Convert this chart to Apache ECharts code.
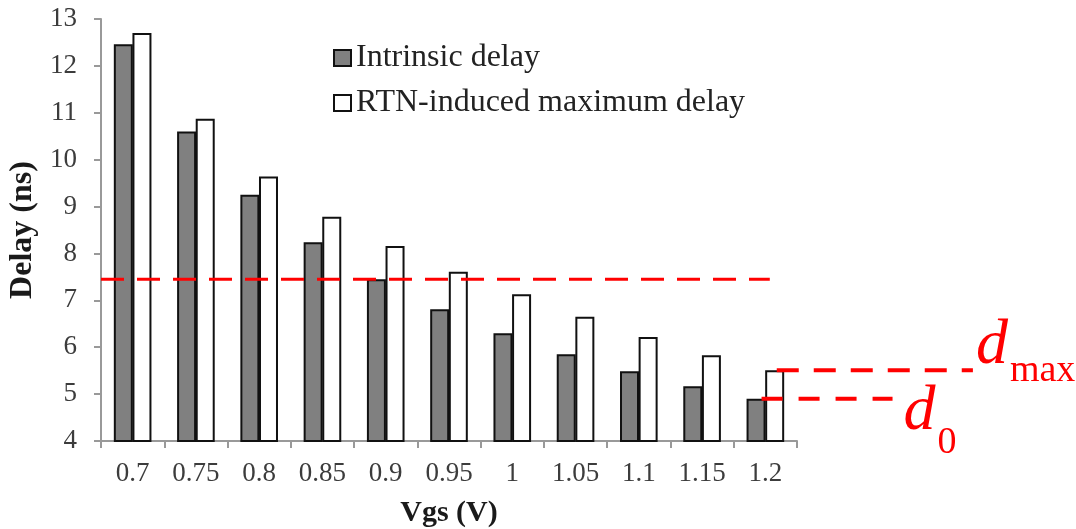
<!DOCTYPE html>
<html>
<head>
<meta charset="utf-8">
<style>
  html, body { margin: 0; padding: 0; background: #ffffff; }
  #chart { width: 1076px; height: 529px; }
</style>
<script src="https://cdn.jsdelivr.net/npm/echarts@6/dist/echarts.min.js"></script>
</head>
<body>
<div id="chart"></div>
<script>
// Gate delay versus supply voltage
const categories = ['0.7', '0.75', '0.8', '0.85', '0.9', '0.95', '1', '1.05', '1.1', '1.15', '1.2'];
const intrinsicDelay = [12.46, 10.60, 9.25, 8.24, 7.45, 6.81, 6.30, 5.85, 5.49, 5.17, 4.90];
const maxDelay = [12.70, 10.87, 9.64, 8.78, 8.16, 7.61, 7.13, 6.65, 6.22, 5.83, 5.51];
const yTicks = { min: 4, max: 13, step: 1 };

// Reference levels, x in category-band units (0 = left edge of first band)
const thresholdLine = [[0, 7.45], [10.57, 7.45]];
const dMaxLine = [[10.68, 5.51], [13.78, 5.51]];
const d0Line = [[10.44, 4.90], [12.51, 4.90]];

const serif = 'Liberation Serif';
const red = '#ff0000';

const W = 1076;
const plot = { left: 101, right: 279, top: 19, bottom: 88 };
// overlay grid shares the bar grid's scale but runs to the right edge,
// so the annotation lines can extend past the last category
const band = (W - plot.left - plot.right) / categories.length;
const overlayMax = (W - plot.left) / band;

const chart = echarts.init(document.getElementById('chart'));

function dashedLine(name, data, width, dash, label) {
  const s = {
    name: name,
    type: 'line',
    xAxisIndex: 1,
    yAxisIndex: 1,
    data: data,
    symbol: 'none',
    silent: true,
    z: 5,
    lineStyle: { color: red, width: width, type: dash, cap: 'butt' }
  };
  if (label) {
    s.endLabel = {
      show: true,
      distance: 3,
      offset: label.offset,
      formatter: '{d|' + label.main + '}{s|' + label.sub + '}',
      rich: {
        d: { fontFamily: serif, fontStyle: 'italic', fontSize: 64, color: red, verticalAlign: 'bottom', lineHeight: 64 },
        s: { fontFamily: serif, fontSize: 38, color: red, verticalAlign: 'bottom', lineHeight: 38, padding: [0, 0, label.drop, 2] }
      }
    };
  }
  return s;
}

chart.setOption({
  backgroundColor: '#ffffff',
  animation: false,
  grid: [
    { left: plot.left, right: plot.right, top: plot.top, bottom: plot.bottom, containLabel: false, outerBoundsMode: 'none' },
    { left: plot.left, right: 0, top: plot.top, bottom: plot.bottom, containLabel: false, outerBoundsMode: 'none', show: false }
  ],
  legend: {
    orient: 'vertical',
    left: 333,
    top: 42,
    padding: 0,
    itemGap: 13,
    itemWidth: 17,
    itemHeight: 16,
    icon: 'rect',
    data: ['Intrinsic delay', 'RTN-induced maximum delay'],
    textStyle: { fontFamily: serif, fontSize: 32, color: '#222222' }
  },
  xAxis: [
    {
      type: 'category',
      gridIndex: 0,
      data: categories,
      name: 'Vgs (V)',
      nameLocation: 'middle',
      nameGap: 57,
      nameTextStyle: { fontFamily: serif, fontSize: 30, fontWeight: 'bold', color: '#1a1a1a' },
      axisLine: { show: true, lineStyle: { color: '#999999', width: 2 } },
      axisTick: { show: true, length: 7, alignWithLabel: false, lineStyle: { color: '#999999', width: 2 } },
      axisLabel: { fontFamily: serif, fontSize: 27, color: '#3c3c3c', margin: 19 },
      splitLine: { show: false }
    },
    {
      type: 'value',
      gridIndex: 1,
      min: 0,
      max: overlayMax,
      show: false
    }
  ],
  yAxis: [
    {
      type: 'value',
      gridIndex: 0,
      min: yTicks.min,
      max: yTicks.max,
      interval: yTicks.step,
      name: 'Delay (ns)',
      nameLocation: 'middle',
      nameGap: 53,
      nameTextStyle: { fontFamily: serif, fontSize: 32, fontWeight: 'bold', color: '#1a1a1a' },
      axisLine: { show: true, lineStyle: { color: '#999999', width: 2 } },
      axisTick: { show: true, length: 7, lineStyle: { color: '#999999', width: 2 } },
      axisLabel: { fontFamily: serif, fontSize: 27, color: '#3c3c3c', margin: 24 },
      splitLine: { show: false }
    },
    {
      type: 'value',
      gridIndex: 1,
      min: yTicks.min,
      max: yTicks.max,
      show: false
    }
  ],
  series: [
    {
      name: 'Intrinsic delay',
      type: 'bar',
      data: intrinsicDelay,
      barWidth: 19,
      barGap: '-2%',
      itemStyle: { color: '#808080', borderColor: '#111111', borderWidth: 2 }
    },
    {
      name: 'RTN-induced maximum delay',
      type: 'bar',
      data: maxDelay,
      barWidth: 19,
      barGap: '-2%',
      itemStyle: { color: '#ffffff', borderColor: '#111111', borderWidth: 2 }
    },
    dashedLine('threshold', thresholdLine, 3, [23, 13]),
    dashedLine('dmax', dMaxLine, 4, [22, 15], { main: 'd', sub: 'max', offset: [0, -24], drop: -12 }),
    dashedLine('d0', d0Line, 4, [21, 16], { main: 'd', sub: '0', offset: [8, 13], drop: -18 })
  ]
});
</script>
</body>
</html>
